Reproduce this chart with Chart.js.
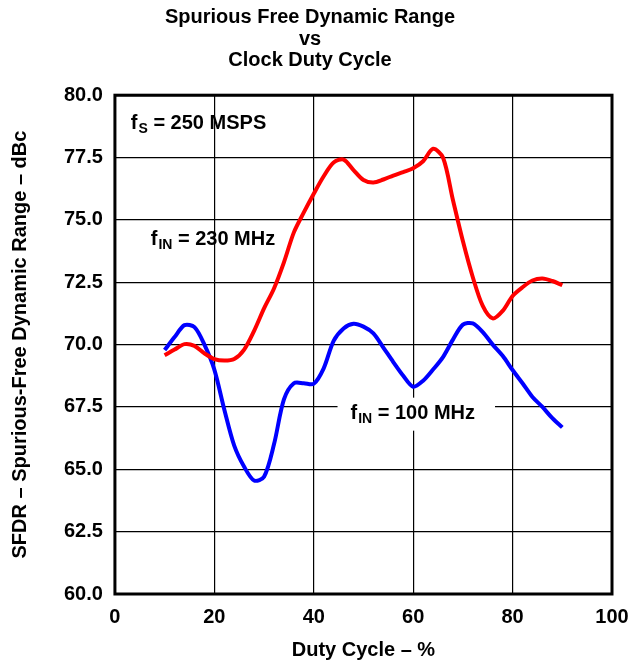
<!DOCTYPE html>
<html lang="en">
<head>
  <meta charset="UTF-8">
  <title>Spurious Free Dynamic Range vs Clock Duty Cycle</title>
  <script src="https://cdn.jsdelivr.net/npm/chart.js"></script>
  <style>
    body { margin: 0; background: white; }
    .wrap { width: 642px; height: 662px; }
  </style>
</head>
<body>
  <div class="wrap"><canvas id="grafico"></canvas></div>

  <script>
    // duty cycle, %
    const dutyCycle = [10, 12, 14, 16, 18, 20, 22, 24, 26, 28, 30, 32, 34, 36, 38, 40, 42, 44, 46, 48, 50,
                       52, 54, 56, 58, 60, 62, 64, 66, 68, 70, 72, 74, 76, 78, 80, 82, 84, 86, 88, 90];
    // SFDR, dBc
    const sfdr230 = [69.57, 69.8, 70.02, 69.95, 69.65, 69.42, 69.36, 69.42, 69.8, 70.55, 71.45, 72.25, 73.3, 74.5, 75.3,
                     76.05, 76.75, 77.3, 77.42, 77.0, 76.6, 76.5, 76.62, 76.78, 76.92, 77.07, 77.35, 77.85, 77.5, 75.8,
                     74.15, 72.7, 71.55, 71.05, 71.35, 71.95, 72.3, 72.57, 72.65, 72.55, 72.38];
    const sfdr100 = [69.78, 70.3, 70.78, 70.7, 70.0, 69.0, 67.4, 65.95, 65.1, 64.55, 64.7, 66.0, 67.8, 68.45, 68.45,
                     68.43, 69.05, 70.15, 70.65, 70.84, 70.72, 70.45, 69.88, 69.3, 68.75, 68.31, 68.55, 69.0, 69.5, 70.2,
                     70.8, 70.85, 70.5, 70.0, 69.55, 68.98, 68.45, 67.9, 67.5, 67.05, 66.68];
    const xTicks = [0, 20, 40, 60, 80, 100];
    const yTicks = [60, 62.5, 65, 67.5, 70, 72.5, 75, 77.5, 80];

    const FONT = "'Liberation Sans', Arial, sans-serif";

    // labels with subscripts: [main, sub, rest, x, y, whiteBox]
    const notas = [
      ["f", "S", " = 250 MSPS", 3.2, 78.63, false],
      ["f", "IN", " = 230 MHz", 7.2, 73.98, false],
      ["f", "IN", " = 100 MHz", 47.4, 67.03, true]
    ];

    const pontos = ys => dutyCycle.map((x, i) => ({ x: x, y: ys[i] }));

    const notasPlugin = {
      id: "notas",
      beforeDatasetsDraw(chart) {
        const ctx = chart.ctx, sx = chart.scales.x, sy = chart.scales.y;
        ctx.save();
        ctx.fillStyle = "#000";
        ctx.textBaseline = "alphabetic";
        notas.forEach(n => {
          let x = sx.getPixelForValue(n[3]);
          const y = sy.getPixelForValue(n[4]);
          ctx.font = "bold 20px " + FONT;
          const w1 = ctx.measureText(n[0]).width;
          ctx.font = "bold 14px " + FONT;
          const w2 = ctx.measureText(n[1]).width;
          ctx.font = "bold 20px " + FONT;
          const w3 = ctx.measureText(n[2]).width;
          if (n[5]) {
            ctx.fillStyle = "#fff";
            ctx.fillRect(x - 13, y - 21, w1 + w2 + w3 + 34, 33);
            ctx.fillStyle = "#000";
          }
          ctx.fillText(n[0], x, y);
          x += w1 + 1;
          ctx.font = "bold 14px " + FONT;
          ctx.fillText(n[1], x, y + 4);
          x += w2;
          ctx.font = "bold 20px " + FONT;
          ctx.fillText(n[2], x, y);
        });
        ctx.restore();
      },
      afterDraw(chart) {
        const ctx = chart.ctx, a = chart.chartArea;
        ctx.save();
        ctx.strokeStyle = "#000";
        ctx.lineWidth = 3;
        ctx.strokeRect(a.left, a.top, a.right - a.left, a.bottom - a.top);
        ctx.restore();
      }
    };

    new Chart(document.getElementById("grafico"), {
      type: "scatter",
      data: {
        datasets: [
          { label: "fIN = 230 MHz", data: pontos(sfdr230), borderColor: "#ff0000", borderWidth: 4 },
          { label: "fIN = 100 MHz", data: pontos(sfdr100), borderColor: "#0000ff", borderWidth: 4 }
        ]
      },
      options: {
        responsive: true,
        maintainAspectRatio: false,
        animation: false,
        showLine: true,
        elements: { point: { radius: 0 }, line: { tension: 0.3 } },
        layout: { padding: { top: 0, right: 30, bottom: 0, left: 8 } },
        plugins: {
          legend: { display: false },
          tooltip: { enabled: false },
          title: {
            display: true,
            text: ["Spurious Free Dynamic Range", "vs", "Clock Duty Cycle"],
            color: "#000",
            font: { family: FONT, size: 20, weight: "bold", lineHeight: 1.07 },
            padding: { top: 7, bottom: 24 }
          }
        },
        scales: {
          x: {
            type: "linear", min: 0, max: 100,
            afterBuildTicks: s => { s.ticks = xTicks.map(v => ({ value: v })); },
            grid: { color: "#000", lineWidth: 1.2, drawTicks: false },
            border: { display: false },
            ticks: { color: "#000", padding: 11, font: { family: FONT, size: 20, weight: "bold" } },
            title: { display: true, text: "Duty Cycle – %", color: "#000", padding: { top: 0, bottom: 2 },
                     font: { family: FONT, size: 20, weight: "bold", lineHeight: 1.0 } }
          },
          y: {
            type: "linear", min: 60, max: 80,
            afterBuildTicks: s => { s.ticks = yTicks.map(v => ({ value: v })); },
            grid: { color: "#000", lineWidth: 1.2, drawTicks: false },
            border: { display: false },
            ticks: { color: "#000", padding: 12, callback: v => v.toFixed(1),
                     font: { family: FONT, size: 20, weight: "bold" } },
            title: { display: true, text: "SFDR – Spurious-Free Dynamic Range – dBc", color: "#000",
                     padding: { top: 0, bottom: 20 }, font: { family: FONT, size: 20, weight: "bold" } }
          }
        }
      },
      plugins: [notasPlugin]
    });
  </script>
</body>
</html>
